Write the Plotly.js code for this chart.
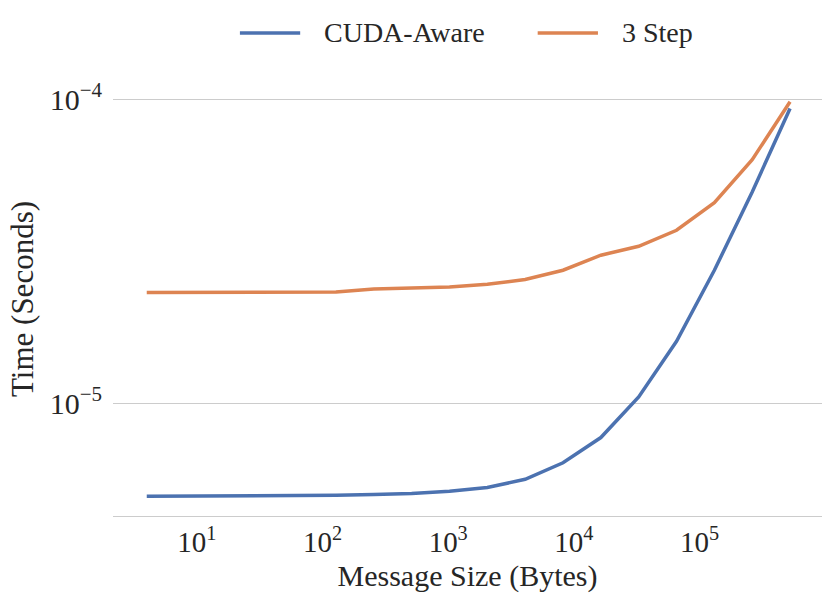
<!DOCTYPE html>
<html>
<head>
<meta charset="utf-8">
<script src="https://cdn.plot.ly/plotly-3.0.1.min.js"></script>
<style>
  html, body { margin: 0; padding: 0; background: #fff; }
  #chart { width: 831px; height: 602px; }
</style>
</head>
<body>
<div id="chart"></div>
<script>
// message sizes in bytes (2^2 .. 2^19)
const msgSizes = [4, 8, 16, 32, 64, 128, 256, 512, 1024, 2048, 4096, 8192,
                  16384, 32768, 65536, 131072, 262144, 524288];

// time in seconds
const cudaAware = [4.96e-6, 4.963e-6, 4.967e-6, 4.975e-6, 4.986e-6, 5.00e-6,
                   5.024e-6, 5.062e-6, 5.151e-6, 5.297e-6, 5.639e-6, 6.391e-6,
                   7.733e-6, 1.051e-5, 1.602e-5, 2.742e-5, 4.959e-5, 9.32e-5];
const threeStep = [2.316e-5, 2.316e-5, 2.318e-5, 2.32e-5, 2.322e-5, 2.326e-5,
                   2.381e-5, 2.399e-5, 2.417e-5, 2.467e-5, 2.556e-5, 2.742e-5,
                   3.072e-5, 3.287e-5, 3.711e-5, 4.57e-5, 6.328e-5, 9.81e-5];

const seriesNames = ['CUDA-Aware', '3 Step'];
const seriesColors = ['#4C72B0', '#DD8452'];

const xTickVals = [1e1, 1e2, 1e3, 1e4, 1e5];
const xTickText = ['10<sup>1</sup>', '10<sup>2</sup>', '10<sup>3</sup>', '10<sup>4</sup>', '10<sup>5</sup>'];
const yTickVals = [1e-5, 1e-4];
const yTickText = ['10<sup>\u22125</sup>', '10<sup>\u22124</sup>'];

const font = 'Liberation Serif';
const textColor = '#262626';

const traces = [cudaAware, threeStep].map((ys, i) => ({
    x: msgSizes,
    y: ys,
    type: 'scatter',
    mode: 'lines',
    name: seriesNames[i],
    line: { color: seriesColors[i], width: 3.5 }
}));

// hand-placed legend above the plot (paper coords), like the seaborn one
const legendLineX = [[0.179, 0.264], [0.599, 0.684]];
const legendY = 1.113;
const shapes = seriesNames.map((n, i) => ({
    type: 'line', xref: 'paper', yref: 'paper',
    x0: legendLineX[i][0], x1: legendLineX[i][1], y0: legendY, y1: legendY,
    line: { color: seriesColors[i], width: 3.5 }
}));
const annotations = seriesNames.map((n, i) => ({
    xref: 'paper', yref: 'paper',
    x: legendLineX[i][1] + 0.031, y: legendY,
    xanchor: 'left', yanchor: 'middle',
    text: n, showarrow: false,
    font: { family: font, size: 28, color: textColor }
}));

const layout = {
    width: 831,
    height: 602,
    margin: { l: 113, r: 9, t: 82, b: 86, autoexpand: false },
    paper_bgcolor: '#fff',
    plot_bgcolor: '#fff',
    font: { family: font, color: textColor, size: 27 },
    showlegend: false,
    shapes: shapes,
    annotations: annotations,
    xaxis: {
        type: 'log',
        range: [0.3336, 5.9737],
        tickvals: xTickVals,
        ticktext: xTickText,
        showgrid: false,
        zeroline: false,
        showline: true,
        linecolor: '#cccccc',
        linewidth: 1.25,
        ticks: '',
        tickfont: { family: font, size: 29, color: textColor },
        title: { text: 'Message Size (Bytes)', font: { family: font, size: 30, color: textColor }, standoff: 8 }
    },
    yaxis: {
        type: 'log',
        range: [-5.3694, -3.9434],
        tickvals: yTickVals,
        ticktext: yTickText,
        showgrid: true,
        gridcolor: '#cccccc',
        gridwidth: 1.25,
        zeroline: false,
        showline: false,
        ticks: '',
        ticklabelstandoff: 10,
        tickfont: { family: font, size: 30, color: textColor },
        title: { text: 'Time (Seconds)', font: { family: font, size: 31, color: textColor }, standoff: 6 }
    }
};

Plotly.newPlot('chart', traces, layout, { displayModeBar: false, staticPlot: true });
</script>
</body>
</html>
